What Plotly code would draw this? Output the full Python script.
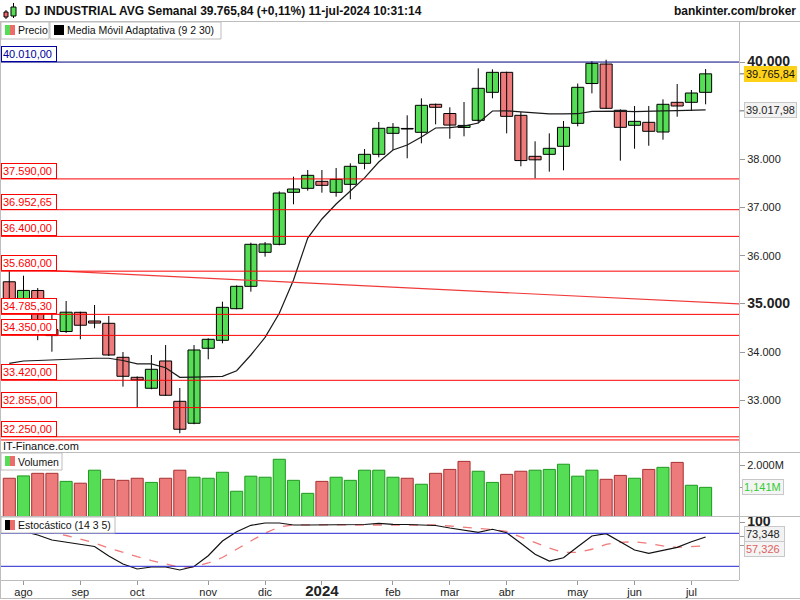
import numpy as np
import plotly.graph_objects as go

# ---------------- data (weekly, 31-jul-2023 .. 08-jul-2024) ----------------
MONTH_TICK_IDX = [1, 5, 9, 14, 18, 22, 27, 31, 35, 40, 44, 48]
MONTH_LABELS = ["ago", "sep", "oct", "nov", "dic", "2024", "feb", "mar", "abr", "may", "jun", "jul"]

OPEN = [35460, 35090, 35280, 34470, 34430, 34828, 34648, 34600, 33896, 33482,
        33255, 33820, 32985, 32530, 34083, 34248, 34903, 35366, 36070, 36236,
        37312, 37395, 37540, 37312, 37478, 37913, 38099, 38534, 38635, 38555,
        39135, 38944, 38655, 38803, 39383, 39797, 38907, 38058, 38099, 38265,
        38741, 39565, 39969, 39011, 38700, 38762, 38561, 39176, 39176, 39383]
HIGH = [35679, 35586, 35330, 34790, 35062, 34840, 34979, 34751, 34006, 33500,
        33944, 34150, 33261, 34150, 34290, 35048, 35387, 36270, 36283, 37333,
        37636, 37774, 37774, 37816, 37913, 38209, 38768, 38747, 38907, 39259,
        39150, 39073, 39182, 39880, 39859, 39810, 38975, 38369, 38534, 38789,
        39565, 40025, 40058, 39030, 39100, 39100, 39238, 39555, 39431, 39865]
LOW = [35010, 34960, 34250, 34012, 34400, 34270, 34497, 33923, 33288, 32853,
       33234, 33100, 32323, 32510, 33855, 34186, 34890, 35255, 35980, 36215,
       37064, 37346, 37305, 37222, 37168, 37789, 38037, 38188, 38017, 38327,
       38720, 38422, 38472, 38741, 39259, 38534, 37851, 37602, 37740, 37768,
       38679, 39362, 39040, 37968, 38216, 38277, 38402, 38878, 38996, 39135]
CLOSE = [35065, 35281, 34500, 34346, 34830, 34560, 34605, 33944, 33503, 33427,
         33648, 33110, 32406, 34048, 34269, 34931, 35366, 36236, 36242, 37298,
         37381, 37664, 37457, 37581, 37851, 38099, 38638, 38658, 38623, 39114,
         39073, 38705, 38698, 39466, 39797, 38886, 37970, 37985, 38224, 38658,
         39487, 39983, 39052, 38658, 38782, 38576, 39135, 39100, 39369, 39765.84]
KAMA = [33770, 33820, 33830, 33845, 33860, 33876, 33876, 33876, 33830, 33760,
        33758, 33680, 33482, 33485, 33490, 33503, 33619, 33944, 34310, 34807,
        35497, 36366, 36760, 37070, 37340, 37610, 37940, 38188, 38292, 38458,
        38644, 38654, 38685, 38747, 38996, 39000, 38980, 38950, 38935, 38935,
        38940, 38990, 39000, 38995, 38985, 38985, 39000, 39005, 39015, 39017.98]
VOLUME_M = [1.49, 1.58, 1.68, 1.68, 1.37, 1.30, 1.80, 1.45, 1.41, 1.49,
            1.33, 1.49, 1.80, 1.53, 1.49, 1.72, 0.99, 1.57, 1.53, 2.22,
            1.41, 0.91, 1.37, 1.53, 1.41, 1.80, 1.80, 1.53, 1.49, 1.26,
            1.68, 1.83, 2.14, 1.76, 1.33, 1.64, 1.76, 1.80, 1.83, 2.03,
            1.57, 1.80, 1.45, 1.60, 1.49, 1.83, 1.91, 2.10, 1.22, 1.141]
STOCH_K = [90, 84, 77, 67.8, 64, 59.6, 56, 38.7, 24.2, 15.1,
           18.7, 18.7, 13.3, 19.6, 39.3, 66, 82.9, 94.5, 98.7, 98.7,
           95.1, 95.1, 95.1, 95.1, 95.1, 96, 98.2, 96.4, 96, 95.1,
           94.2, 89.6, 85.1, 81.8, 87.3, 81.1, 61.8, 41.8, 29.6, 35.6,
           55.6, 75.1, 79.3, 64.7, 49.6, 43.6, 49.6, 54.5, 64.7, 73.348]
STOCH_D = [88, 85, 82, 80.5, 76, 69.6, 62.4, 53.3, 45.1, 37.5,
           30.5, 24.2, 18.2, 18.7, 26, 36, 51.5, 66, 80.5, 91.5,
           95.1, 95.5, 95.5, 95.3, 95.1, 95.3, 95.6, 95.5, 95.5, 95.5,
           95.1, 93.3, 91.5, 89.6, 86.9, 83.3, 73.3, 62.4, 53.3, 45.1,
           45.5, 51, 60, 63.5, 64.7, 61.5, 57, 54.5, 56, 57.326]

RED_LEVELS = [37590.00, 36952.65, 36400.00, 35680.00, 34785.30, 34350.00, 33420.00, 32855.00, 32250.00]
BLUE_LEVEL = 40010.00
EXTRA_LEVEL = 32185.0
TREND_IDX = [0, 49]
TREND_VAL = [35733, 35035]
PRICE_TICKS = [33000, 34000, 35000, 36000, 37000, 38000, 39000, 40000]
HIDDEN_TICKS = [39000]
MAJOR_TICKS = [35000, 40000]
STOCH_LEVELS = [80, 20]
LAST_PRICE = 39765.84
LAST_KAMA = 39017.98
LAST_VOL = 1.141

# ---------------- geometry helpers ----------------
PLOT_W, PLOT_TOP, PLOT_BOT = 739, 21, 580
PLOT_H = PLOT_BOT - PLOT_TOP
XMIN, XMAX = -0.654, 51.35


def px_x(px):
    return px / PLOT_W


def px_y(py):
    return (PLOT_BOT - py) / PLOT_H


def fmt_es(v, dec):
    s = f"{v:,.{dec}f}"
    return s.replace(",", "X").replace(".", ",").replace("X", ".")


GREEN, RED = "#55dd55", "#ee7b7b"
VGREEN, VGREEN_L = "#55dd55", "#1f991f"
VRED, VRED_L = "#ee7b7b", "#a83030"
GREY = "#bdbdbd"
FONT = "Liberation Sans"

O, H, L, C = (np.array(a, dtype=float) for a in (OPEN, HIGH, LOW, CLOSE))
idx = np.arange(len(C))

fig = go.Figure()

# wicks
wx, wy = [], []
for i in idx:
    wx += [int(i), int(i), None]
    wy += [L[i], H[i], None]
fig.add_trace(go.Scatter(x=wx, y=wy, mode="lines", line=dict(color="#000", width=1),
                         yaxis="y", hoverinfo="skip"))
# bodies
up = C >= O
fig.add_trace(go.Bar(x=idx, y=np.abs(C - O), base=np.minimum(O, C), width=0.85,
                     marker=dict(color=[GREEN if u else RED for u in up],
                                 line=dict(color="#000", width=1)), yaxis="y"))
# adaptive moving average
fig.add_trace(go.Scatter(x=idx, y=KAMA, mode="lines", line=dict(color="#1a1a1a", width=1.2), yaxis="y"))
# trend line extended to both edges
slope = (TREND_VAL[1] - TREND_VAL[0]) / (TREND_IDX[1] - TREND_IDX[0])
tx = [XMIN, XMAX]
ty = [TREND_VAL[0] + slope * (x - TREND_IDX[0]) for x in tx]
fig.add_trace(go.Scatter(x=tx, y=ty, mode="lines", line=dict(color="#f03a3a", width=1.2), yaxis="y"))

# volume
vup = np.r_[False, C[1:] >= C[:-1]]
fig.add_trace(go.Bar(x=idx, y=VOLUME_M, width=0.85,
                     marker=dict(color=[VGREEN if u else VRED for u in vup],
                                 line=dict(color=[VGREEN_L if u else VRED_L for u in vup], width=1)),
                     yaxis="y2"))

# stochastic
fig.add_trace(go.Scatter(x=idx, y=STOCH_D, mode="lines",
                         line=dict(color="#f07a7a", width=1.3, dash="dash"), yaxis="y3"))
fig.add_trace(go.Scatter(x=idx, y=STOCH_K, mode="lines", line=dict(color="#111", width=1.2), yaxis="y3"))

shapes = []
for lv in RED_LEVELS + [EXTRA_LEVEL]:
    shapes.append(dict(type="line", xref="paper", x0=0, x1=1, yref="y", y0=lv, y1=lv,
                       line=dict(color="#ff0000", width=1)))
shapes.append(dict(type="line", xref="paper", x0=0, x1=1, yref="y", y0=BLUE_LEVEL, y1=BLUE_LEVEL,
                   line=dict(color="#000080", width=1)))
for lv in STOCH_LEVELS:
    shapes.append(dict(type="line", xref="paper", x0=0, x1=1, yref="y3", y0=lv, y1=lv,
                       line=dict(color="#2424d0", width=1)))


def hline(py, x0=0, x1=800, color=GREY):
    shapes.append(dict(type="line", xref="paper", yref="paper", x0=px_x(x0), x1=px_x(x1),
                       y0=px_y(py), y1=px_y(py), line=dict(color=color, width=1)))


def vline(px, y0, y1, color=GREY):
    shapes.append(dict(type="line", xref="paper", yref="paper", x0=px_x(px), x1=px_x(px),
                       y0=px_y(y0), y1=px_y(y1), line=dict(color=color, width=1)))


def rect(x0, y0, x1, y1, fill, line=None):
    shapes.append(dict(type="rect", xref="paper", yref="paper", x0=px_x(x0), x1=px_x(x1),
                       y0=px_y(y0), y1=px_y(y1), fillcolor=fill,
                       line=dict(color=line or fill, width=1 if line else 0)))


hline(21.5)
hline(452.5)
hline(516.5)
hline(598.5)
vline(0.5, 21, 599)
vline(739.5, 21, 580)

# legend boxes
rect(1, 22, 49, 39, "white", GREY)
rect(5, 25, 10, 35, "#55dd55")
rect(10, 25, 15, 35, "#ee6b6b")
rect(50, 22, 221, 39, "white", GREY)
rect(54, 25, 64, 35, "#000")
rect(1, 453, 62, 470, "white", GREY)
rect(5, 456, 10, 466, "#55dd55")
rect(10, 456, 15, 466, "#ee6b6b")
rect(1, 517, 115, 533, "white", GREY)
rect(5, 520, 10, 530, "#000")
rect(10, 520, 15, 530, "#ee6b6b")
# title icon (two small candles)
vline(6, 10, 19, "#000")
rect(4, 12, 8, 17, "#ee6b6b", "#000")
vline(13.5, 3, 18, "#000")
rect(11, 7, 16, 16, "#55dd55", "#000")
# tick marks for right side value boxes
for py in (74, 111):
    shapes.append(dict(type="line", xref="paper", yref="paper", x0=px_x(739), x1=px_x(744),
                       y0=px_y(py), y1=px_y(py), line=dict(color="#999", width=1)))

ann = []


def text(t, xpx, ypx, size=11, color="#111", xanchor="left"):
    ann.append(dict(text=t, x=px_x(xpx), y=px_y(ypx), xref="paper", yref="paper",
                    xanchor=xanchor, yanchor="middle", showarrow=False,
                    font=dict(size=size, color=color, family=FONT)))


text("<b>DJ INDUSTRIAL AVG Semanal 39.765,84 (+0,11%) 11-jul-2024 10:31:14</b>", 23, 11, 12)
text("<b>bankinter.com/broker</b>", 798, 11, 12, xanchor="right")
text("Precio", 15.5, 30.5, 10.5)
text("Media Móvil Adaptativa (9 2 30)", 65, 30.5, 10.5)
text("IT-Finance.com", 1, 446)
text("Volumen", 15.5, 461.5, 10.5)
text("Estocástico (14 3 5)", 15.5, 525, 10.5)


def box(t, y, yref, xpx, color, border, bg, width, yshift=0, xanchor="left", yanchor="bottom"):
    ann.append(dict(text=t, x=px_x(xpx), xref="paper", y=y, yref=yref, xanchor=xanchor,
                    yanchor=yanchor, showarrow=False, yshift=yshift,
                    font=dict(size=11, color=color, family=FONT), bgcolor=bg,
                    bordercolor=border, borderwidth=1, borderpad=1, width=width, align="left"))


for lv in RED_LEVELS:
    box(fmt_es(lv, 2), lv, "y", 1, "#ff0000", "#ff0000", "white", 52)
box(fmt_es(BLUE_LEVEL, 2), BLUE_LEVEL, "y", 1, "#0000a0", "#0000a0", "white", 52)
box(fmt_es(LAST_PRICE, 2), LAST_PRICE, "y", 744, "#111", "#ffd21a", "#ffd21a", 49, yanchor="middle")
box(fmt_es(LAST_KAMA, 2), LAST_KAMA, "y", 744, "#222", "#c8c8c8", "#f2f2f2", 49, yanchor="middle")
box(fmt_es(LAST_VOL, 3) + "M", LAST_VOL, "y2", 742, "#33cc33", "#c8c8c8", "#f4f4f4", 38, yanchor="middle")
box(fmt_es(STOCH_K[-1], 3), STOCH_K[-1], "y3", 744, "#222", "#c8c8c8", "#f2f2f2", 37, yshift=3, yanchor="middle")
box(fmt_es(STOCH_D[-1], 3), STOCH_D[-1], "y3", 744, "#e06060", "#c8c8c8", "#f4f4f4", 37, yshift=-3, yanchor="middle")


def tick_txt(v):
    if v in HIDDEN_TICKS:
        return ""
    s = fmt_es(v, 0)
    if v in MAJOR_TICKS:
        return f'<b><span style="font-size:14px">{s}</span></b>'
    return s


month_txt = [f'<b><span style="font-size:15px">{m}</span></b>' if m.isdigit() else m for m in MONTH_LABELS]

axis_common = dict(showgrid=False, zeroline=False, fixedrange=True)
fig.update_layout(
    width=800, height=600,
    margin=dict(l=0, r=61, t=21, b=20),
    paper_bgcolor="white", plot_bgcolor="white",
    barmode="overlay", showlegend=False,
    font=dict(family=FONT, size=11, color="#222"),
    xaxis=dict(domain=[0, 1], range=[XMIN, XMAX], anchor="y3", tickmode="array",
               tickvals=MONTH_TICK_IDX, ticktext=month_txt, ticks="outside", ticklen=4,
               tickcolor="#999", showline=True, linecolor=GREY, tickfont=dict(size=11),
               ticklabelstandoff=-2, **axis_common),
    yaxis=dict(domain=[px_y(441), 1], range=[32163, 40860], side="right", anchor="x",
               tickmode="array", tickvals=PRICE_TICKS + [LAST_PRICE],
               ticktext=[tick_txt(v) for v in PRICE_TICKS] + [""],
               ticks="outside", ticklen=5, tickcolor="#999", showline=False, **axis_common),
    yaxis2=dict(domain=[px_y(516), px_y(452)], range=[0.0385, 2.5], side="right", anchor="x",
                tickmode="array", tickvals=[LAST_VOL, 2.0], ticktext=["", "2.000M"],
                ticks="outside", ticklen=5, tickcolor="#999", showline=False, **axis_common),
    yaxis3=dict(domain=[0, px_y(516)], range=[-4.9, 111.45], side="right", anchor="x",
                tickmode="array", tickvals=[100, STOCH_K[-1], STOCH_D[-1]],
                ticktext=['<b><span style="font-size:14px">100</span></b>', "", ""],
                ticks="outside", ticklen=5, tickcolor="#999", showline=False, **axis_common),
    shapes=shapes, annotations=ann,
)

fig.write_html("out.html")
